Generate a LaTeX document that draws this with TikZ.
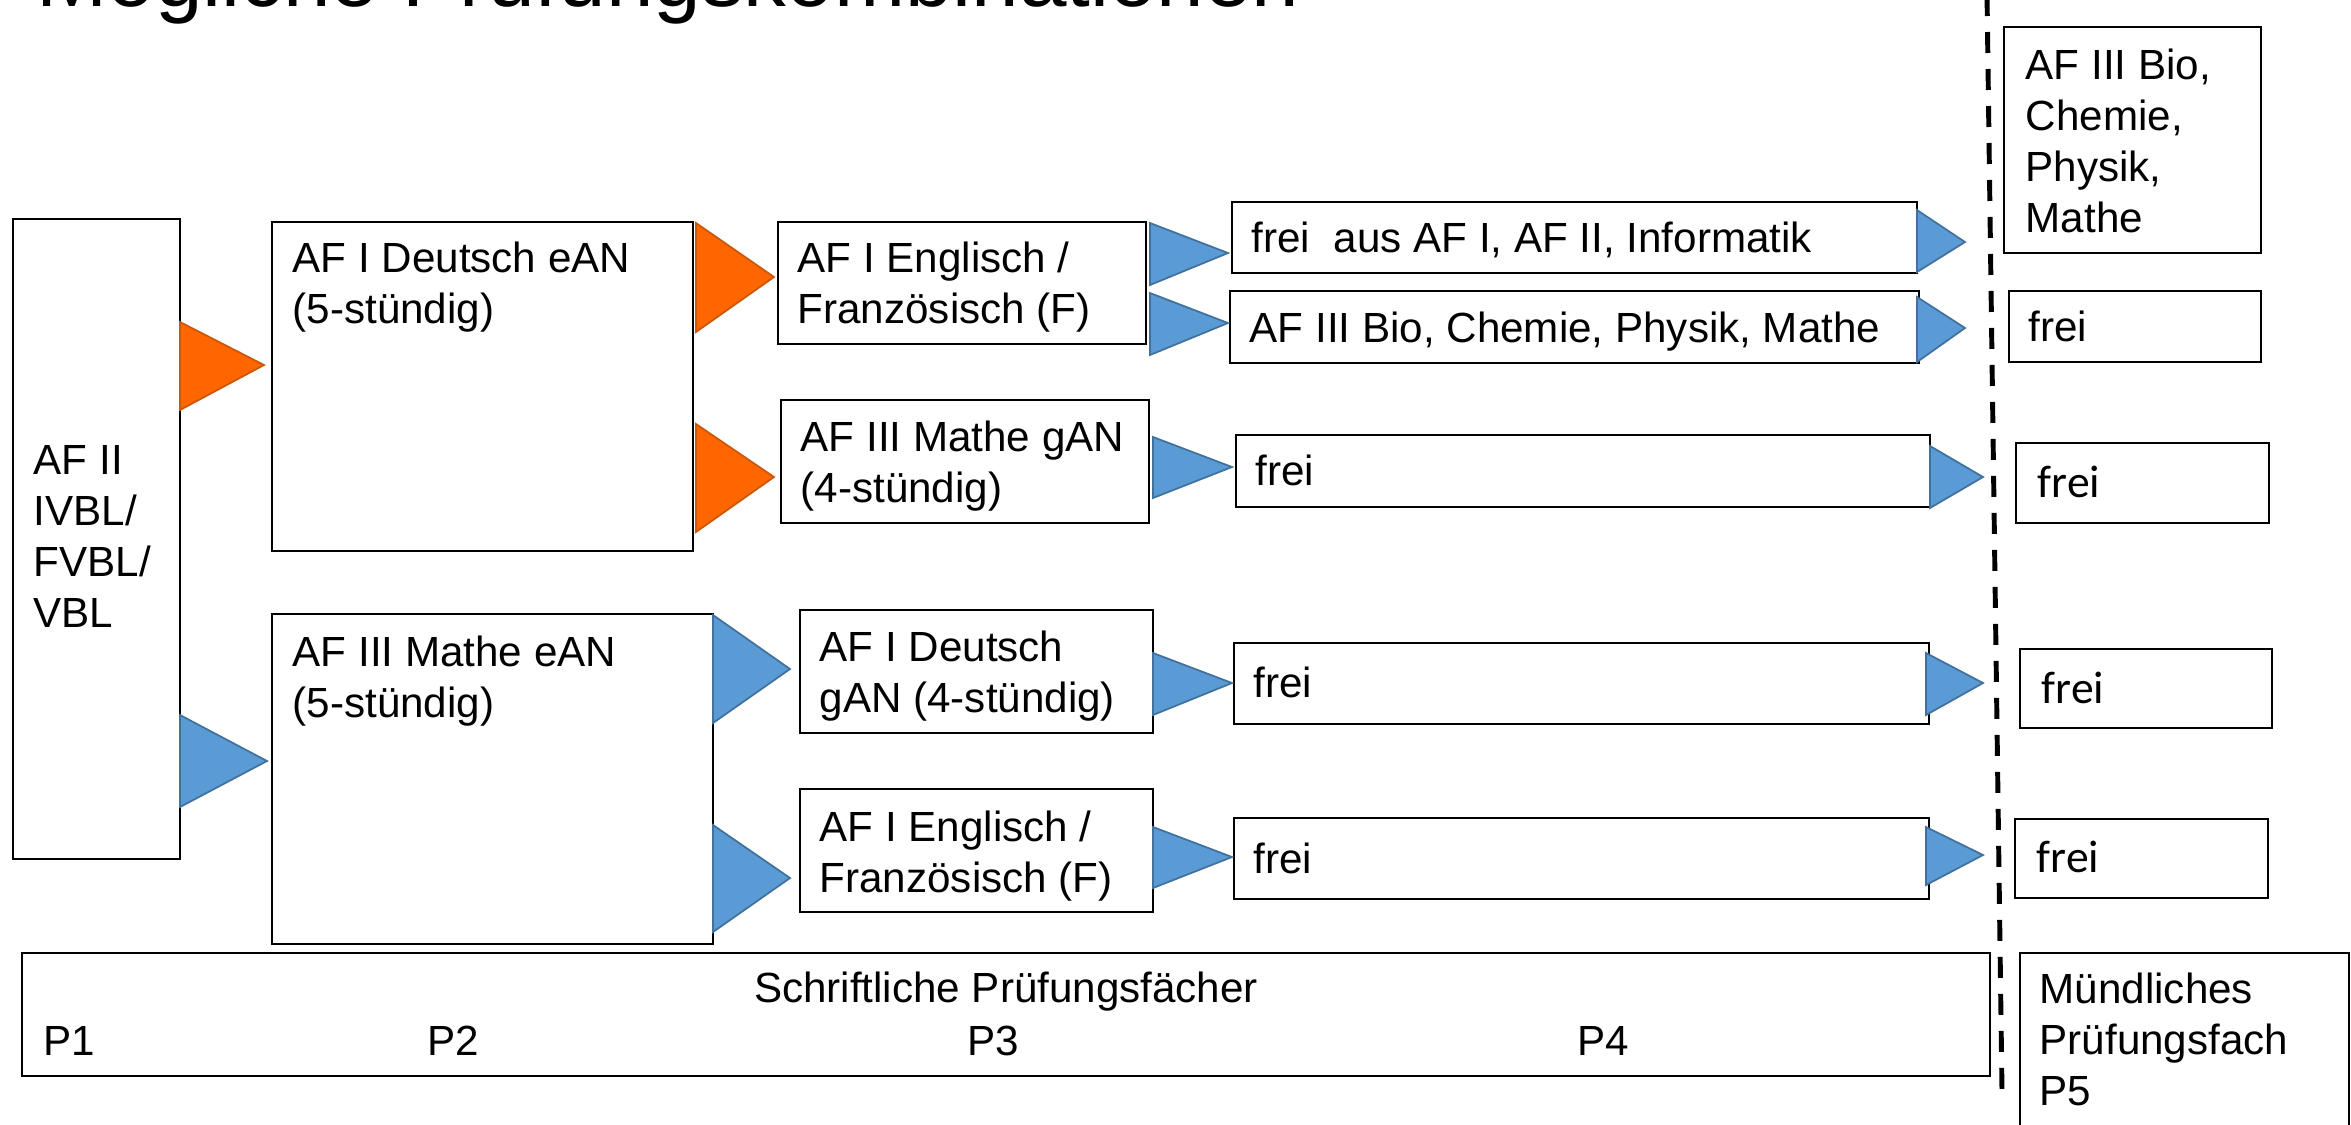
\documentclass[tikz,border=0pt]{standalone}
\usepackage{fontspec}
\setmainfont{Liberation Sans}
\newfontfamily\calfont{Carlito}
\usetikzlibrary{fit}
\definecolor{orangefill}{RGB}{255,102,0}
\definecolor{orangeline}{RGB}{200,88,10}
\definecolor{bluefill}{RGB}{91,155,213}
\definecolor{blueline}{RGB}{65,113,156}
\tikzset{
    every node/.style={font=\fontsize{12}{14.5}\selectfont},
    box/.style={draw, line width=0.65pt, inner sep=0pt},
    txt/.style={anchor=base west, align=left, inner sep=0pt},
    orangetri/.style={fill=orangefill, draw=orangeline, line width=0.5pt},
    bluetri/.style={fill=bluefill, draw=blueline, line width=0.5pt},
    divider/.style={line width=1.4pt, dash pattern=on 2.1mm off 1.6mm}
}

\begin{document}
\begin{tikzpicture}[x=0.1mm, y=-0.1mm]
  \useasboundingbox (0,0) rectangle (2351,1124);
  \clip (0,0) rectangle (2351,1124);

  \node (title) [txt, font=\fontsize{24.3}{29}\selectfont] at (36,6) {Mögliche Prüfungskombinationen};

  % P1 (multi-line texts sit on their last baseline)
  \node (lvbl) [box, fit={(13,219) (180,859)}] {};
  \node (lvbl_t) [txt] at (33,627) {AF II\\IVBL/\\FVBL/\\VBL};

  % P2
  \node (deu) [box, fit={(272,222) (693,551)}] {};
  \node (deu_t) [txt] at (292,323) {AF I Deutsch eAN\\(5-stündig)};
  \node (mae) [box, fit={(272,614) (713,944)}] {};
  \node (mae_t) [txt] at (292,717) {AF III Mathe eAN\\(5-stündig)};

  % P3
  \node (ef1) [box, fit={(778,222) (1146,344)}] {};
  \node (ef1_t) [txt] at (797,323) {AF I Englisch /\\Französisch (F)};
  \node (mga) [box, fit={(781,400) (1149,523)}] {};
  \node (mga_t) [txt] at (800,502) {AF III Mathe gAN\\(4-stündig)};
  \node (dga) [box, fit={(800,610) (1153,733)}] {};
  \node (dga_t) [txt] at (819,712) {AF I Deutsch\\gAN (4-stündig)};
  \node (ef2) [box, fit={(800,789) (1153,912)}] {};
  \node (ef2_t) [txt] at (819,892) {AF I Englisch /\\Französisch (F)};

  % P4
  \node (fr1) [box, fit={(1232,202) (1917,273)}] {};
  \node (fr1_t) [txt] at (1251,252) {frei\ \ aus AF I, AF II, Informatik};
  \node (fr2) [box, fit={(1230,291) (1919,363)}] {};
  \node (fr2_t) [txt] at (1249,342) {AF III Bio, Chemie, Physik, Mathe};
  \node (fr3) [box, fit={(1236,435) (1930,507)}] {};
  \node (fr3_t) [txt] at (1255,485) {frei};
  \node (fr4) [box, fit={(1234,643) (1929,724)}] {};
  \node (fr4_t) [txt] at (1253,697) {frei};
  \node (fr5) [box, fit={(1234,818) (1929,899)}] {};
  \node (fr5_t) [txt] at (1253,873) {frei};

  % P5
  \node (m1) [box, fit={(2004,27) (2261,253)}] {};
  \node (m1_t) [txt] at (2025,232) {AF III Bio,\\Chemie,\\Physik,\\Mathe};
  \node (m2) [box, fit={(2009,291) (2261,362)}] {};
  \node (m2_t) [txt] at (2028,341) {frei};
  \node (m3) [box, fit={(2016,443) (2269,523)}] {};
  \node (m3_t) [txt, font=\calfont\fontsize{13}{16}\selectfont] at (2037,497) {frei};
  \node (m4) [box, fit={(2020,649) (2272,728)}] {};
  \node (m4_t) [txt, font=\calfont\fontsize{13}{16}\selectfont] at (2041,703) {frei};
  \node (m5) [box, fit={(2015,819) (2268,898)}] {};
  \node (m5_t) [txt, font=\calfont\fontsize{13}{16}\selectfont] at (2036,872) {frei};

  % arrows
  \filldraw[orangetri] (180,322) -- (264,365) -- (180,410) -- cycle;
  \filldraw[orangetri] (696,223) -- (774,277) -- (696,332) -- cycle;
  \filldraw[orangetri] (696,424) -- (774,477) -- (696,532) -- cycle;
  \filldraw[bluetri] (180,715) -- (267,761) -- (180,807) -- cycle;
  \filldraw[bluetri] (713,615) -- (790,669) -- (713,723) -- cycle;
  \filldraw[bluetri] (713,825) -- (790,878) -- (713,932) -- cycle;
  \filldraw[bluetri] (1150,223) -- (1228,253) -- (1150,285) -- cycle;
  \filldraw[bluetri] (1150,293) -- (1228,323) -- (1150,355) -- cycle;
  \filldraw[bluetri] (1153,437) -- (1232,467) -- (1153,498) -- cycle;
  \filldraw[bluetri] (1153,653) -- (1232,683) -- (1153,715) -- cycle;
  \filldraw[bluetri] (1153,827) -- (1232,857) -- (1153,888) -- cycle;
  \filldraw[bluetri] (1917,210) -- (1965,242) -- (1917,272) -- cycle;
  \filldraw[bluetri] (1917,297) -- (1965,328) -- (1917,362) -- cycle;
  \filldraw[bluetri] (1930,446) -- (1983,477) -- (1930,508) -- cycle;
  \filldraw[bluetri] (1926,653) -- (1983,683) -- (1926,715) -- cycle;
  \filldraw[bluetri] (1926,827) -- (1983,855) -- (1926,885) -- cycle;

  % divider
  \coordinate (dtop) at (1987,-5);
  \coordinate (dbot) at (2002,1092);
  \draw[divider] (dtop) -- (dbot);

  % bottom row
  \node (schr) [box, fit={(22,953) (1990,1076)}] {};
  \node (schr_t) [anchor=base, inner sep=0pt] at (1006,1002) {Schriftliche Prüfungsfächer};
  \node (p1) [txt] at (43,1055) {P1};
  \node (p2) [txt] at (427,1055) {P2};
  \node (p3) [txt] at (967,1055) {P3};
  \node (p4) [txt] at (1577,1055) {P4};
  \node (muend) [box, fit={(2020,953) (2349,1160)}] {};
  \node (muend_t) [txt] at (2039,1105) {Mündliches\\Prüfungsfach\\P5};
\end{tikzpicture}
\end{document}
